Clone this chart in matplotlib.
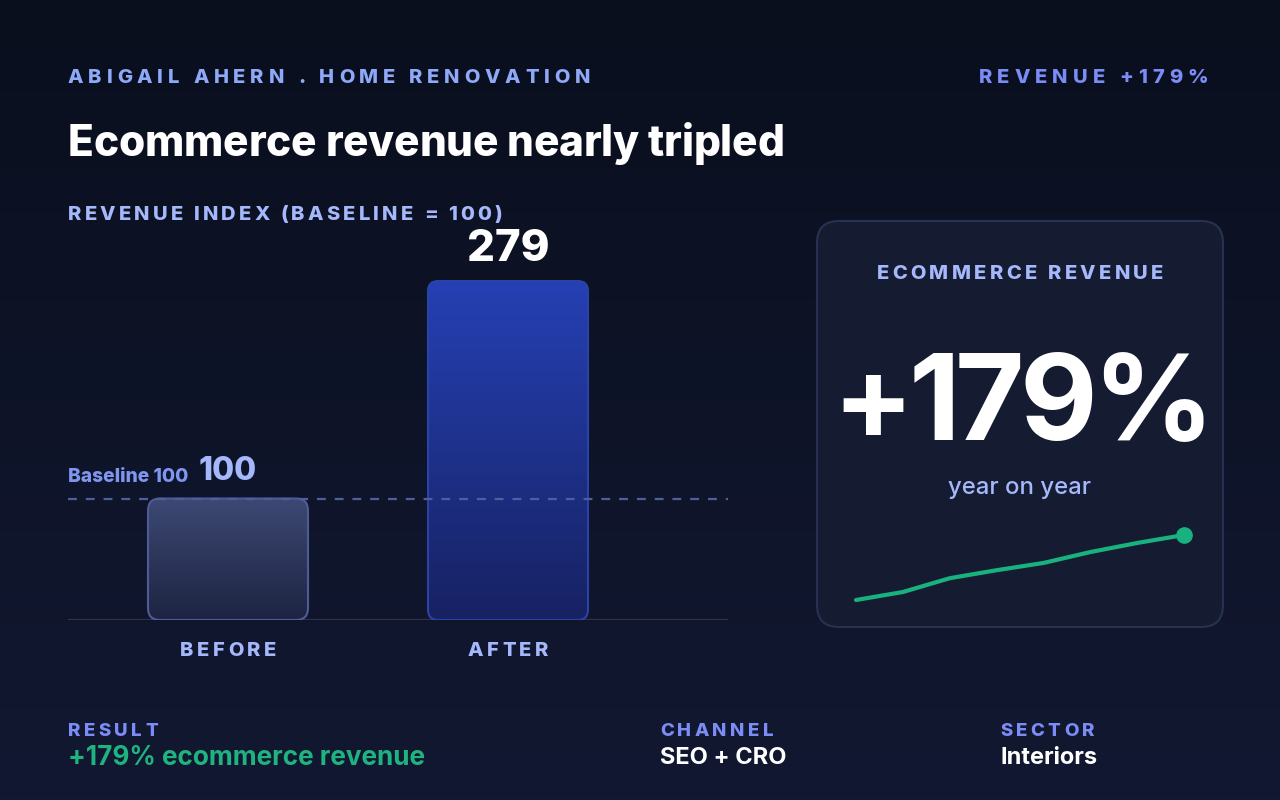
import numpy as np
import matplotlib
matplotlib.use("Agg")
import matplotlib.pyplot as plt
from matplotlib.patches import FancyBboxPatch
from matplotlib.colors import LinearSegmentedColormap

plt.rcParams['font.family'] = ['Inter', 'DejaVu Sans']

# data
categories = ['BEFORE', 'AFTER']
revenue_index = [100, 279]
baseline = 100
spark_values = [100, 122, 160, 182, 202, 232, 257, 279]
headline = '+179%'

W, H = 1280, 800
fig = plt.figure(figsize=(12.8, 8), dpi=100)
renderer = fig.canvas.get_renderer()

# background in pixel coordinates
bg = fig.add_axes([0, 0, 1, 1], zorder=-10)
grad = np.linspace(0, 1, 256).reshape(-1, 1)
bg_cmap = LinearSegmentedColormap.from_list('bg', ['#0a0f1e', '#121831'])
bg.imshow(grad, cmap=bg_cmap, extent=[0, W, H, 0], aspect='auto')
bg.set_xlim(0, W)
bg.set_ylim(H, 0)
bg.axis('off')


def text_width(s, **kw):
    t = bg.text(0, 0, s, **kw)
    w = t.get_window_extent(renderer).width
    t.remove()
    return w


def spaced(x, y, s, spacing=0.0, ha='left', **kw):
    # draw text char by char with letter spacing (px); y is baseline
    base = text_width('I', **kw)
    offs = [0.0] + [text_width(s[:i] + 'I', **kw) - base for i in range(1, len(s) + 1)]
    total = offs[-1] + spacing * (len(s) - 1)
    if ha == 'center':
        x = x - total / 2
    elif ha == 'right':
        x = x - total
    for i, ch in enumerate(s):
        if ch != ' ':
            bg.text(x + offs[i] + i * spacing, y, ch, ha='left', va='baseline', **kw)


LAB = dict(fontsize=14.5, fontweight=800)

# header
spaced(68, 83, 'ABIGAIL AHERN . HOME RENOVATION', 4.8, color='#8ea9f7', **LAB)
spaced(1208, 83, 'REVENUE +179%', 5.1, ha='right', color='#7b8cf6', **LAB)
spaced(68, 156, 'Ecommerce revenue nearly tripled', -0.2, color='white',
       fontsize=30.5, fontweight=800)
spaced(68, 220, 'REVENUE INDEX (BASELINE = 100)', 3.2, color='#a5b8fc', **LAB)

# bar chart
ax_l, ax_r, ax_b, ax_t = 68, 728, 620, 220
ax = fig.add_axes([ax_l / W, (H - ax_b) / H, (ax_r - ax_l) / W, (ax_b - ax_t) / H])
ax.patch.set_alpha(0)
ppy = 1.215
ppx = 280
ylim = (0, (ax_b - ax_t) / ppy)
xlim = (-160 / ppx, 1 + 220 / ppx)
bw = 160 / ppx
aspect = (1 / ppy) / (1 / ppx)

styles = [
    dict(top='#3d4974', bot='#1d2442', edge='#4d5c96', r=12),
    dict(top='#2540b4', bot='#172262', edge='#2b42a6', r=10),
]
for i, (cat, v) in enumerate(zip(categories, revenue_index)):
    st = styles[i]
    x0 = i - bw / 2
    box = FancyBboxPatch((x0, 0), bw, v,
                         boxstyle='round,pad=0,rounding_size=%f' % (st['r'] / ppx),
                         mutation_aspect=aspect, facecolor='none',
                         edgecolor=st['edge'], linewidth=1.5, zorder=3)
    ax.add_patch(box)
    cm = LinearSegmentedColormap.from_list('b%d' % i, [st['bot'], st['top']])
    im = ax.imshow(np.linspace(0, 1, 256).reshape(-1, 1), cmap=cm,
                   extent=[x0, x0 + bw, 0, v], origin='lower', aspect='auto',
                   zorder=2)
    im.set_clip_path(box)
    # category label, centred under the bar
    cx = ax_l + (i - xlim[0]) * ppx
    spaced(cx, 656, cat, 3.4, ha='center', color='#a5b8fc', fontsize=14.5,
           fontweight=800)

ax.text(1, revenue_index[1] + 32 / ppy, str(revenue_index[1]), ha='center',
        va='center', color='white', fontsize=31.5, fontweight=800)
ax.text(0, revenue_index[0] + 27 / ppy, str(revenue_index[0]), ha='center',
        va='center', color='#a5b8fc', fontsize=23, fontweight=800)
ax.text(xlim[0], baseline + 22 / ppy, 'Baseline 100', ha='left', va='center',
        color='#7f95f0', fontsize=13.8, fontweight=800)
ax.axhline(baseline, color='#4d5f9e', linestyle=(0, (4, 4)), linewidth=1.6,
           zorder=4)
ax.axhline(0, color='#2a3352', linewidth=1.6, zorder=1)
ax.set_xlim(*xlim)
ax.set_ylim(*ylim)
ax.axis('off')

# card
card = FancyBboxPatch((817, 221), 406, 406,
                      boxstyle='round,pad=0,rounding_size=22',
                      facecolor='#151b30', edgecolor='#283150', linewidth=1.5)
bg.add_patch(card)
spaced(1020, 279, 'ECOMMERCE REVENUE', 3.35, ha='center', color='#a5b8fc', **LAB)
spaced(1023, 440, headline, -5, ha='center', color='white', fontsize=86,
       fontweight='bold')
bg.text(1020, 488, 'year on year', ha='center', va='center', color='#a5b8fc',
        fontsize=17.2, fontweight='medium')

# sparkline
s_l, s_r, s_b, s_t = 846, 1194, 612, 523
sx = fig.add_axes([s_l / W, (H - s_b) / H, (s_r - s_l) / W, (s_b - s_t) / H])
sx.patch.set_alpha(0)
sppy = (600 - 535) / (spark_values[-1] - spark_values[0])
sx.plot(range(len(spark_values)), spark_values, color='#19b17d', linewidth=3,
        solid_capstyle='round')
sx.plot(len(spark_values) - 1, spark_values[-1], 'o', color='#19b17d',
        markersize=11)
sppx = (1184 - 856) / (len(spark_values) - 1)
sx.set_xlim(-(856 - s_l) / sppx, len(spark_values) - 1 + (s_r - 1184) / sppx)
sx.set_ylim(spark_values[0] - (s_b - 600) / sppy,
            spark_values[-1] + (535 - s_t) / sppy)
sx.axis('off')

# footer
foot = [(68, 'RESULT', '+179% ecommerce revenue', '#1fb37f', 18.8),
        (660, 'CHANNEL', 'SEO + CRO', 'white', 17),
        (1000, 'SECTOR', 'Interiors', 'white', 17)]
for x, lab, val, c, fs in foot:
    spaced(x, 736, lab, 3.4, color='#7b8cf6', fontsize=13.5, fontweight=800)
    bg.text(x, 758, val, va='center', color=c, fontsize=fs, fontweight='bold')

fig.savefig('out.png', dpi=100)
